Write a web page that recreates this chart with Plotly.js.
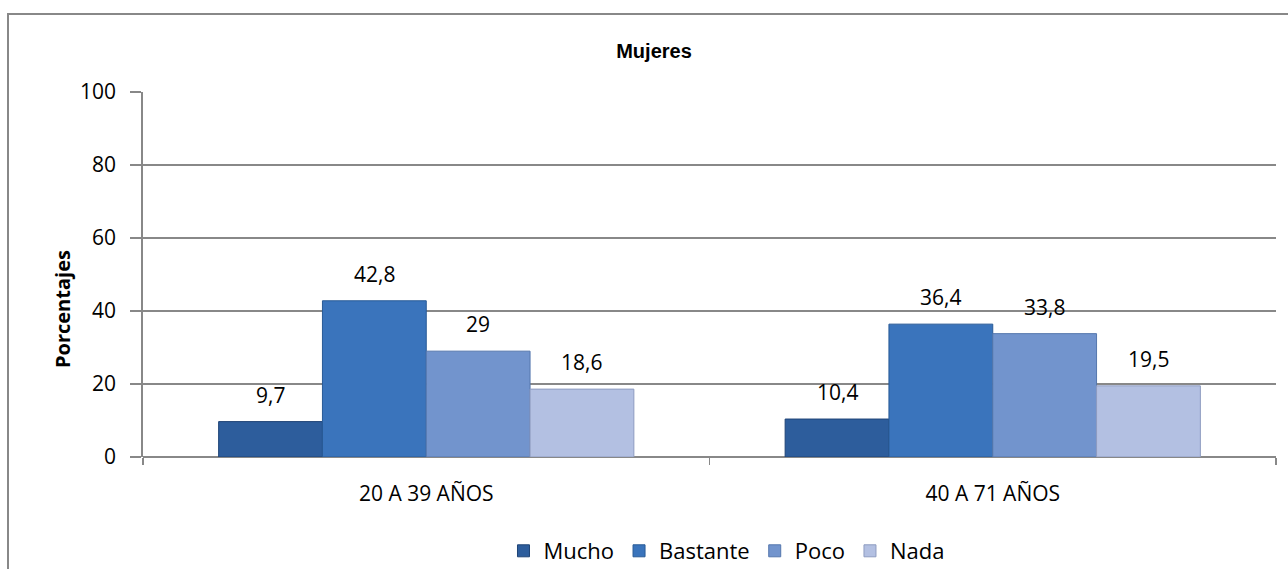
<!DOCTYPE html>
<html><head><meta charset="utf-8">
<script src="https://cdn.plot.ly/plotly-3.0.1.min.js"></script>
<style>html,body{margin:0;padding:0;background:#fff;overflow:hidden}#chart{width:1288px;height:569px}</style>
</head><body><div id="chart"></div>
<script>
const categories = ["20 A 39 AÑOS", "40 A 71 AÑOS"];
const seriesNames = ["Mucho", "Bastante", "Poco", "Nada"];
const mucho = [9.7, 10.4];
const bastante = [42.8, 36.4];
const poco = [29, 33.8];
const nada = [18.6, 19.5];
const yTicks = [0, 20, 40, 60, 80, 100];

const FONT = "'Open Sans', Lato, sans-serif";
const values = [mucho, bastante, poco, nada];
const colors = ["#2d5d9c", "#3a74bc", "#7294cd", "#b3c0e2"];
const lines = ["#1f4476", "#285a96", "#5577ad", "#8e9cc0"];
const BARGAP = 0.267;
const traces = values.map((v, i) => ({
  type: "bar", name: seriesNames[i], x: categories, y: v,
  marker: {color: colors[i], line: {color: lines[i], width: 1}},
  hoverinfo: "skip"
}));

const bw = (1 - BARGAP) / values.length;
const annotations = [];
values.forEach((v, i) => v.forEach((val, ci) => {
  annotations.push({xref: "x", yref: "y", x: ci + (i - (values.length - 1) / 2) * bw, y: val,
    text: String(val).replace(".", ","), showarrow: false, yanchor: "bottom", xanchor: "center", yshift: 11,
    font: {family: FONT, size: 21, color: "#000"}});
}));

const L = 143, R = 12, T = 92, B = 112, W = 1288, H = 569;
const pw = W - L - R, ph = H - T - B;
annotations.push({xref: "paper", yref: "paper", x: (62 - L) / pw, y: (H - B - 309) / ph, xanchor: "center", yanchor: "middle",
  text: "<b>Porcentajes</b>", textangle: -90, showarrow: false, font: {family: FONT, size: 20, color: "#000"}});

const layout = {
  width: W, height: H,
  margin: {l: L, r: R, t: T, b: B, pad: 0, autoexpand: false},
  paper_bgcolor: "#fff", plot_bgcolor: "#fff",
  font: {family: FONT, size: 21, color: "#000"},
  title: {text: "<b>Mujeres</b>", font: {family: "'Liberation Sans', Arial, sans-serif", size: 20, color: "#000"}, x: 654 / W, xanchor: "center", y: 1 - 51 / H, yanchor: "middle"},
  barmode: "group", bargap: BARGAP, bargroupgap: 0,
  xaxis: {type: "category", automargin: false, showgrid: false, showline: false, zeroline: false,
    ticks: "outside", tickson: "boundaries", ticklen: 7, tickcolor: "#888", tickwidth: 1.5,
    ticklabelstandoff: 22, tickfont: {size: 21}},
  yaxis: {range: [0, 100], automargin: false, tickvals: yTicks, ticktext: yTicks.map(String), showgrid: true, gridcolor: "#888", gridwidth: 1.8,
    showline: true, linecolor: "#888", linewidth: 1.8, zeroline: true, zerolinecolor: "#888", zerolinewidth: 1.8,
    ticks: "outside", ticklen: 11, tickcolor: "#888", tickwidth: 1.8, ticklabelstandoff: 10,
    tickfont: {size: 21}},
  legend: {orientation: "h", x: 0.515, xanchor: "center", y: -(551 - 457) / ph, yanchor: "middle",
    font: {size: 22}, itemwidth: 30, tracegroupgap: 0},
  showlegend: true,
  annotations: annotations,
  shapes: [{type: "rect", xref: "paper", yref: "paper",
    x0: (8 - L) / pw, x1: (W + 20 - L) / pw, y0: -(H + 20 - (H - B)) / ph, y1: (H - B - 14) / ph,
    line: {color: "#888", width: 2}, fillcolor: "rgba(0,0,0,0)", layer: "below"}]
};
Plotly.newPlot("chart", traces, layout, {displayModeBar: false, staticPlot: true});
</script></body></html>
